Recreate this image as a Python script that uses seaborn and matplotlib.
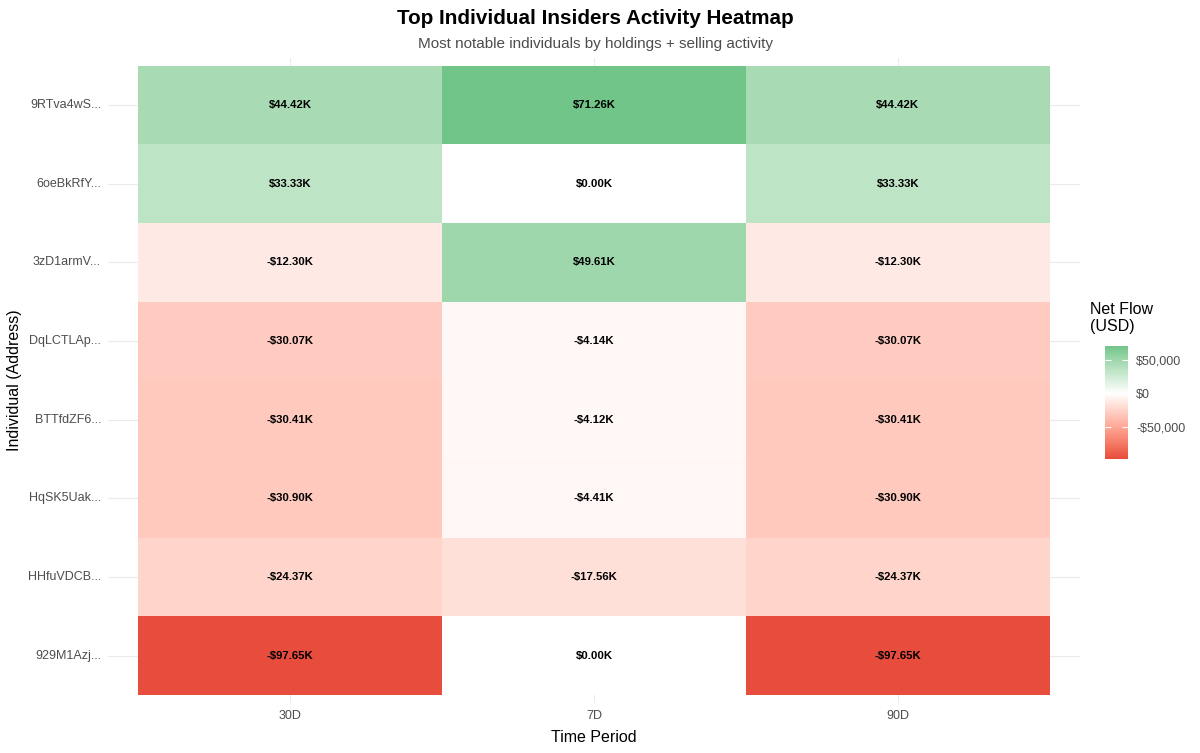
import numpy as np
import pandas as pd
import matplotlib
matplotlib.use("Agg")
from matplotlib import pyplot as plt
from matplotlib.colors import ListedColormap
import seaborn as sns

individuals = ["9RTva4wS...", "6oeBkRfY...", "3zD1armV...", "DqLCTLAp...",
               "BTTfdZF6...", "HqSK5Uak...", "HHfuVDCB...", "929M1Azj..."]
periods = ["30D", "7D", "90D"]
flow_30d = [44420, 33330, -12300, -30070, -30410, -30900, -24370, -97650]
flow_7d = [71260, 0, 49610, -4140, -4120, -4410, -17560, 0]
flow_90d = [44420, 33330, -12300, -30070, -30410, -30900, -24370, -97650]

M_RGB2XYZ = np.array([[0.4124, 0.3576, 0.1805],
                      [0.2126, 0.7152, 0.0722],
                      [0.0193, 0.1192, 0.9505]])
WHITE = M_RGB2XYZ @ np.ones(3)


def srgb_to_lab(rgb):
    rgb = np.asarray(rgb, dtype=float)
    lin = np.where(rgb <= 0.04045, rgb / 12.92, ((rgb + 0.055) / 1.055) ** 2.4)
    xyz = M_RGB2XYZ @ lin / WHITE
    f = np.where(xyz > 0.008856, np.cbrt(xyz), 7.787 * xyz + 16 / 116)
    return np.array([116 * f[1] - 16, 500 * (f[0] - f[1]), 200 * (f[1] - f[2])])


def lab_to_srgb(lab):
    fy = (lab[0] + 16) / 116
    fx = fy + lab[1] / 500
    fz = fy - lab[2] / 200
    f = np.array([fx, fy, fz])
    xyz = np.where(f ** 3 > 0.008856, f ** 3, (f - 16 / 116) / 7.787) * WHITE
    lin = np.linalg.solve(M_RGB2XYZ, xyz)
    lin = np.clip(lin, 0, 1)
    rgb = np.where(lin <= 0.0031308, 12.92 * lin, 1.055 * lin ** (1 / 2.4) - 0.055)
    return np.clip(rgb, 0, 1)


def hex_rgb(h):
    return np.array([int(h[i:i + 2], 16) / 255 for i in (1, 3, 5)])


df = pd.DataFrame({"30D": flow_30d, "7D": flow_7d, "90D": flow_90d}, index=individuals)[periods]
vmin, vmax = df.values.min(), df.values.max()
span = max(abs(vmin), abs(vmax))

# diverging gradient (red - white - green) interpolated in Lab, midpoint at 0
low, mid, high = [srgb_to_lab(hex_rgb(c)) for c in ("#e74c3c", "#ffffff", "#27ae60")]
colors = []
for v in np.linspace(vmin, vmax, 512):
    t = 0.5 + v / (2 * span)
    if t < 0.5:
        lab = low + (mid - low) * (t / 0.5)
    else:
        lab = mid + (high - mid) * ((t - 0.5) / 0.5)
    colors.append(lab_to_srgb(lab))
cmap = ListedColormap(colors)


def fmt_k(v):
    sign = "-" if v < 0 else ""
    return f"{sign}${abs(v) / 1000:.2f}K"


labels = df.map(fmt_k).values

plt.rcParams['font.family'] = ['Liberation Sans', 'DejaVu Sans']
fig = plt.figure(figsize=(12, 7.53), dpi=100)
ax = fig.add_axes([0.09, 0.0664, 0.81, 0.857])
cax = fig.add_axes([0.921, 0.391, 0.019, 0.150])

sns.heatmap(df, ax=ax, cmap=cmap, vmin=vmin, vmax=vmax, annot=labels, fmt="",
            annot_kws={"fontsize": 8.2, "fontweight": "bold", "color": "black"},
            linewidths=0, cbar=True, cbar_ax=cax)

ax.set_xlim(-0.1, 3.1)
ax.set_ylim(8.1, -0.1)
ax.set_axisbelow(True)
ax.grid(True, color="#ebebeb", linewidth=0.8)
for s in ax.spines.values():
    s.set_visible(False)
ax.tick_params(length=0, labelsize=9, labelcolor="#4d4d4d", pad=5)
plt.setp(ax.get_yticklabels(), rotation=0)
plt.setp(ax.get_xticklabels(), rotation=0)
ax.set_xlabel("Time Period", fontsize=11.5, labelpad=6)
ax.set_ylabel("Individual (Address)", fontsize=11.5, labelpad=4)

fig.text(0.496, 0.975, "Top Individual Insiders Activity Heatmap", ha="center", va="center",
         fontsize=14.9, fontweight="bold")
fig.text(0.496, 0.942, "Most notable individuals by holdings + selling activity", ha="center",
         va="center", fontsize=11, color="#4d4d4d")

cbar = ax.collections[0].colorbar
cbar.outline.set_visible(False)
cbar.set_ticks([-50000, 0, 50000])
cbar.set_ticklabels(["-$50,000", "$0", "$50,000"])
cax.yaxis.set_ticks_position("both")
cax.tick_params(direction="in", color="white", length=4, width=0.8, labelsize=9,
                labelcolor="#4d4d4d", pad=6, labelleft=False, labelright=True)
fig.text(0.908, 0.557, "Net Flow\n(USD)", ha="left", va="bottom", fontsize=11.5, linespacing=1.1)

fig.savefig("out.png", dpi=100, facecolor="white")
